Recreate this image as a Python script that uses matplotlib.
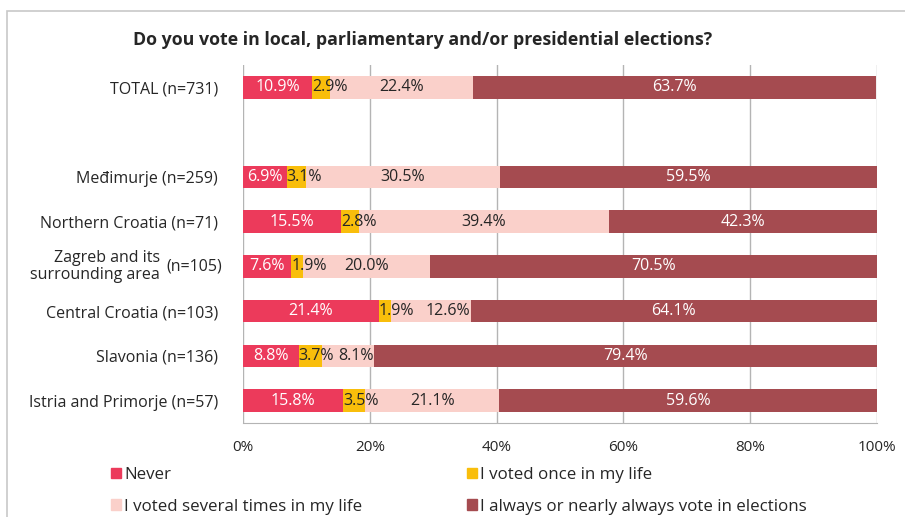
import matplotlib
matplotlib.use('Agg')
import matplotlib.pyplot as plt
from matplotlib.patches import Patch, Rectangle
import numpy as np

plt.rcParams['font.family'] = ['Open Sans', 'DejaVu Sans']

title = 'Do you vote in local, parliamentary and/or presidential elections?'
categories = ['TOTAL (n=731)', '', 'Međimurje (n=259)', 'Northern Croatia (n=71)',
              '', 'Central Croatia (n=103)', 'Slavonia (n=136)',
              'Istria and Primorje (n=57)']
series_names = ['Never', 'I voted once in my life', 'I voted several times in my life',
                'I always or nearly always vote in elections']
never = [10.9, np.nan, 6.9, 15.5, 7.6, 21.4, 8.8, 15.8]
once = [2.9, np.nan, 3.1, 2.8, 1.9, 1.9, 3.7, 3.5]
several = [22.4, np.nan, 30.5, 39.4, 20.0, 12.6, 8.1, 21.1]
always = [63.7, np.nan, 59.5, 42.3, 70.5, 64.1, 79.4, 59.6]
xticks = [0, 20, 40, 60, 80, 100]

colors = ['#EC3A5B', '#F9BE0B', '#FAD0CA', '#A54B50']
text_colors = ['white', '#262626', '#262626', 'white']
dark = '#262626'

fig = plt.figure(figsize=(9.05, 5.17), dpi=100)
ax = fig.add_axes([243 / 905, 1 - 423 / 517, 634 / 905, 358 / 517])

# outer frame
fig.patches.append(Rectangle((7 / 905, -0.1), 1.2, 1 - 11 / 517 + 0.1,
                             transform=fig.transFigure, fill=False,
                             edgecolor='#C8C8C8', linewidth=1.2))

y = np.arange(len(categories))
data = [never, once, several, always]
left = np.zeros(len(categories))
for vals, c, name in zip(data, colors, series_names):
    v = np.nan_to_num(np.array(vals, dtype=float))
    ax.barh(y, v, left=left, height=0.5, color=c, label=name, zorder=3)
    left = left + v

ax.set_xlim(0, 100)
ax.set_ylim(len(categories) - 0.5, -0.5)
ax.set_xticks(xticks)
ax.set_xticklabels([str(t) + '%' for t in xticks], fontsize=11, color=dark)
ax.set_yticks(y)
ax.set_yticklabels(categories, fontsize=11.5, color=dark)
ax.tick_params(axis='both', length=0)
ax.tick_params(axis='y', pad=18)
ax.tick_params(axis='x', pad=12)
ax.grid(axis='x', color='#B4B4B4', linewidth=1, zorder=0)
for s in ['top', 'right', 'left']:
    ax.spines[s].set_visible(False)
ax.spines['bottom'].set_color('#B4B4B4')

# two-part category label for Zagreb
ax.annotate('(n=105)', xy=(0, 4), xycoords='data', xytext=(-21, 0),
            textcoords='offset pixels', ha='right', va='center',
            fontsize=11.5, color=dark)
ax.annotate('Zagreb and its\nsurrounding area', xy=(0, 4), xycoords='data',
            xytext=(-83, 0), textcoords='offset pixels', ha='right', va='center',
            fontsize=11.5, color=dark, linespacing=1.1)

# value labels
fig.canvas.draw()
renderer = fig.canvas.get_renderer()
inv = ax.transData.inverted()
for i in range(len(categories)):
    start = 0.0
    prev_right = -1e9
    for k, vals in enumerate(data):
        v = vals[i]
        if np.isnan(v):
            continue
        end = start + v
        lab = '%.1f%%' % v
        if v < 5:
            t = ax.text(start, i, lab, ha='left', va='center', fontsize=11.5,
                        color=text_colors[k], zorder=5)
        else:
            t = ax.text((start + end) / 2, i, lab, ha='center', va='center',
                        fontsize=11.5, color=text_colors[k], zorder=5)
            bb = t.get_window_extent(renderer)
            l = inv.transform((bb.x0, bb.y0))[0]
            if l < prev_right:
                t.set_x(end)
                t.set_ha('right')
        bb = t.get_window_extent(renderer)
        prev_right = inv.transform((bb.x1, bb.y0))[0]
        start = end

fig.text(133 / 905, 1 - 40 / 517, title, ha='left', va='center',
         fontsize=12.8, fontweight='bold', color=dark)

handles = [Patch(color=c) for c in colors]
order = [0, 2, 1, 3]
fig.legend([handles[i] for i in order], [series_names[i] for i in order],
           ncol=2, frameon=False, loc='upper left',
           bbox_to_anchor=(111 / 905, 1 - 467 / 517),
           borderpad=0, borderaxespad=0,
           handlelength=0.59, handleheight=0.59, handletextpad=0.18,
           columnspacing=6.2, labelspacing=0.92, fontsize=12.2,
           labelcolor=dark)

fig.savefig('out.png', dpi=100)
